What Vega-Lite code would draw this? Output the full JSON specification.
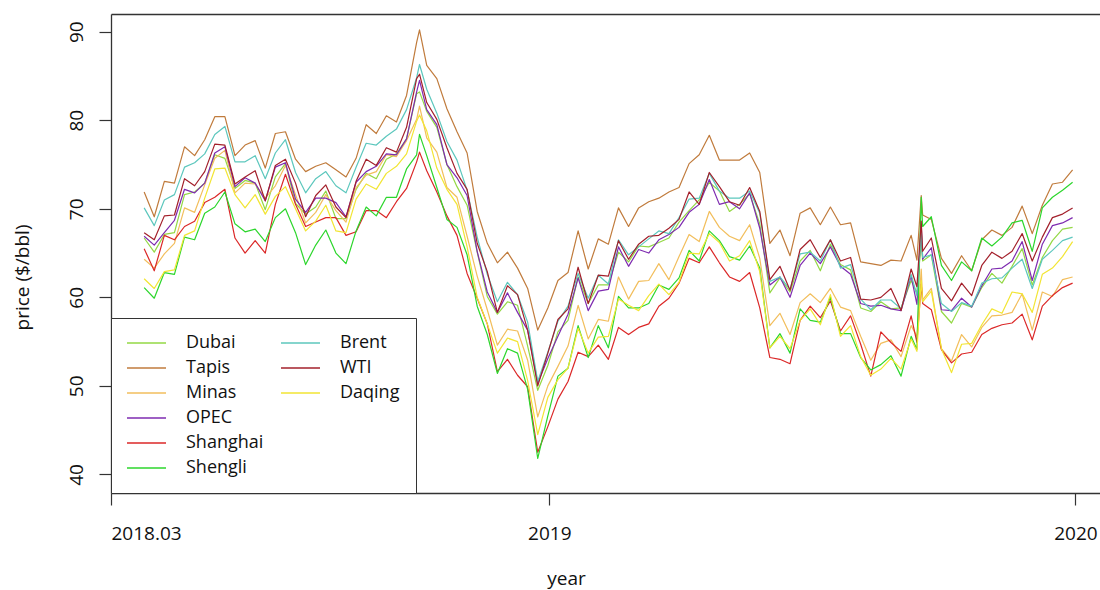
{
"$schema":"https://vega.github.io/schema/vega-lite/v6.json",
"width":989,"height":479,
"autosize":{"type":"none"},
"padding":{"left":111,"top":14,"right":0,"bottom":97},
"background":"white",
"config":{"view":{"stroke":null},"font":"Open Sans","axis":{"domainColor":"#333","domainWidth":1.3,"tickColor":"#333","tickWidth":1.2,"labelColor":"#111","titleColor":"#111","grid":false,"labelFont":"Open Sans","titleFont":"Open Sans","titleFontWeight":"normal"}},
"data":{"values":[
{"date":"2018-03-26","Brent":70.1,"Shanghai":65.5,"Tapis":71.9,"OPEC":66.9,"Dubai":66.7,"WTI":67.3,"Minas":64.3,"Daqing":62.1,"Shengli":61.1},
{"date":"2018-04-02","Brent":68.1,"Shanghai":63.0,"Tapis":69.1,"OPEC":65.9,"Dubai":65.1,"WTI":66.5,"Minas":63.3,"Daqing":61.0,"Shengli":59.9},
{"date":"2018-04-09","Brent":71.0,"Shanghai":67.0,"Tapis":73.1,"OPEC":67.3,"Dubai":67.1,"WTI":69.2,"Minas":64.9,"Daqing":62.9,"Shengli":62.8},
{"date":"2018-04-16","Brent":71.6,"Shanghai":66.5,"Tapis":72.9,"OPEC":68.7,"Dubai":67.3,"WTI":69.3,"Minas":66.1,"Daqing":63.1,"Shengli":62.6},
{"date":"2018-04-23","Brent":74.7,"Shanghai":68.0,"Tapis":77.0,"OPEC":72.2,"Dubai":71.6,"WTI":73.4,"Minas":70.1,"Daqing":67.0,"Shengli":66.8},
{"date":"2018-04-30","Brent":75.2,"Shanghai":68.6,"Tapis":76.0,"OPEC":71.8,"Dubai":71.9,"WTI":72.6,"Minas":69.6,"Daqing":67.5,"Shengli":66.5},
{"date":"2018-05-07","Brent":76.2,"Shanghai":70.7,"Tapis":77.8,"OPEC":72.9,"Dubai":72.9,"WTI":74.2,"Minas":72.7,"Daqing":71.2,"Shengli":69.5},
{"date":"2018-05-14","Brent":78.4,"Shanghai":71.3,"Tapis":80.4,"OPEC":76.3,"Dubai":76.1,"WTI":77.3,"Minas":75.7,"Daqing":74.5,"Shengli":70.2},
{"date":"2018-05-21","Brent":79.3,"Shanghai":72.2,"Tapis":80.4,"OPEC":77.0,"Dubai":75.7,"WTI":77.2,"Minas":76.6,"Daqing":74.6,"Shengli":71.9},
{"date":"2018-05-28","Brent":75.3,"Shanghai":66.7,"Tapis":76.0,"OPEC":72.5,"Dubai":72.3,"WTI":72.8,"Minas":71.8,"Daqing":71.6,"Shengli":68.3},
{"date":"2018-06-04","Brent":75.3,"Shanghai":65.0,"Tapis":77.2,"OPEC":73.5,"Dubai":73.2,"WTI":73.6,"Minas":72.9,"Daqing":70.1,"Shengli":67.4},
{"date":"2018-06-11","Brent":76.0,"Shanghai":66.4,"Tapis":77.7,"OPEC":72.9,"Dubai":72.9,"WTI":74.3,"Minas":72.8,"Daqing":71.6,"Shengli":67.7},
{"date":"2018-06-18","Brent":73.4,"Shanghai":65.0,"Tapis":74.6,"OPEC":70.9,"Dubai":69.9,"WTI":70.9,"Minas":71.2,"Daqing":69.4,"Shengli":66.3},
{"date":"2018-06-25","Brent":76.3,"Shanghai":70.5,"Tapis":78.5,"OPEC":74.7,"Dubai":73.6,"WTI":74.9,"Minas":72.6,"Daqing":71.4,"Shengli":69.0},
{"date":"2018-07-02","Brent":77.8,"Shanghai":73.9,"Tapis":78.7,"OPEC":75.2,"Dubai":75.1,"WTI":75.6,"Minas":74.9,"Daqing":72.5,"Shengli":70.0},
{"date":"2018-07-09","Brent":74.1,"Shanghai":70.5,"Tapis":75.6,"OPEC":71.1,"Dubai":70.6,"WTI":72.9,"Minas":71.6,"Daqing":70.0,"Shengli":67.3},
{"date":"2018-07-16","Brent":71.8,"Shanghai":68.0,"Tapis":74.2,"OPEC":69.6,"Dubai":69.4,"WTI":69.1,"Minas":68.4,"Daqing":67.5,"Shengli":63.7},
{"date":"2018-07-23","Brent":73.4,"Shanghai":68.5,"Tapis":74.8,"OPEC":71.2,"Dubai":70.2,"WTI":71.5,"Minas":69.6,"Daqing":68.6,"Shengli":65.9},
{"date":"2018-07-30","Brent":74.2,"Shanghai":69.0,"Tapis":75.2,"OPEC":71.2,"Dubai":72.0,"WTI":72.7,"Minas":71.6,"Daqing":70.4,"Shengli":67.6},
{"date":"2018-08-06","Brent":72.6,"Shanghai":69.0,"Tapis":74.4,"OPEC":70.7,"Dubai":68.9,"WTI":70.2,"Minas":69.8,"Daqing":67.5,"Shengli":65.0},
{"date":"2018-08-13","Brent":71.8,"Shanghai":67.0,"Tapis":73.6,"OPEC":69.1,"Dubai":68.9,"WTI":69.0,"Minas":68.5,"Daqing":67.3,"Shengli":63.8},
{"date":"2018-08-20","Brent":74.7,"Shanghai":67.4,"Tapis":75.7,"OPEC":73.0,"Dubai":72.2,"WTI":73.1,"Minas":72.4,"Daqing":71.1,"Shengli":67.5},
{"date":"2018-08-27","Brent":77.4,"Shanghai":69.8,"Tapis":79.5,"OPEC":74.2,"Dubai":74.0,"WTI":75.6,"Minas":73.8,"Daqing":72.8,"Shengli":70.2},
{"date":"2018-09-03","Brent":77.2,"Shanghai":69.8,"Tapis":78.5,"OPEC":74.8,"Dubai":73.4,"WTI":74.9,"Minas":74.2,"Daqing":72.2,"Shengli":69.2},
{"date":"2018-09-10","Brent":78.2,"Shanghai":69.0,"Tapis":80.5,"OPEC":76.2,"Dubai":75.6,"WTI":76.9,"Minas":76.1,"Daqing":74.0,"Shengli":71.3},
{"date":"2018-09-17","Brent":79.0,"Shanghai":70.8,"Tapis":79.8,"OPEC":76.1,"Dubai":76.2,"WTI":76.4,"Minas":75.9,"Daqing":74.8,"Shengli":71.3},
{"date":"2018-09-24","Brent":81.2,"Shanghai":72.3,"Tapis":82.8,"OPEC":77.9,"Dubai":77.9,"WTI":79.2,"Minas":77.7,"Daqing":76.2,"Shengli":74.5},
{"date":"2018-10-01","Brent":84.8,"Shanghai":75.3,"Tapis":88.8,"OPEC":83.2,"Dubai":83.0,"WTI":84.7,"Minas":80.1,"Daqing":79.9,"Shengli":76.1},
{"date":"2018-10-03","Brent":86.3,"Shanghai":76.4,"Tapis":90.2,"OPEC":84.5,"Dubai":83.2,"WTI":85.2,"Minas":81.6,"Daqing":80.6,"Shengli":78.4},
{"date":"2018-10-08","Brent":83.5,"Shanghai":74.3,"Tapis":86.2,"OPEC":81.2,"Dubai":81.0,"WTI":82.0,"Minas":78.0,"Daqing":78.8,"Shengli":76.0},
{"date":"2018-10-15","Brent":80.8,"Shanghai":71.9,"Tapis":84.7,"OPEC":79.5,"Dubai":79.2,"WTI":80.1,"Minas":76.4,"Daqing":74.6,"Shengli":72.4},
{"date":"2018-10-22","Brent":77.6,"Shanghai":69.2,"Tapis":81.3,"OPEC":75.0,"Dubai":75.0,"WTI":76.9,"Minas":72.4,"Daqing":72.2,"Shengli":68.8},
{"date":"2018-10-29","Brent":75.5,"Shanghai":67.0,"Tapis":78.7,"OPEC":73.5,"Dubai":72.5,"WTI":74.0,"Minas":71.3,"Daqing":70.5,"Shengli":67.9},
{"date":"2018-11-05","Brent":72.1,"Shanghai":62.7,"Tapis":76.3,"OPEC":71.5,"Dubai":70.4,"WTI":72.2,"Minas":66.9,"Daqing":65.7,"Shengli":64.8},
{"date":"2018-11-12","Brent":66.8,"Shanghai":59.9,"Tapis":69.7,"OPEC":65.2,"Dubai":65.1,"WTI":66.1,"Minas":62.4,"Daqing":60.0,"Shengli":59.0},
{"date":"2018-11-19","Brent":62.6,"Shanghai":57.0,"Tapis":66.1,"OPEC":60.6,"Dubai":60.1,"WTI":62.9,"Minas":58.6,"Daqing":57.0,"Shengli":55.8},
{"date":"2018-11-26","Brent":59.5,"Shanghai":51.6,"Tapis":63.9,"OPEC":58.3,"Dubai":58.1,"WTI":58.3,"Minas":54.6,"Daqing":53.7,"Shengli":51.4},
{"date":"2018-12-03","Brent":61.7,"Shanghai":53.0,"Tapis":65.1,"OPEC":60.5,"Dubai":59.5,"WTI":61.3,"Minas":56.4,"Daqing":55.4,"Shengli":54.2},
{"date":"2018-12-10","Brent":60.3,"Shanghai":51.2,"Tapis":63.3,"OPEC":58.3,"Dubai":59.1,"WTI":60.3,"Minas":56.2,"Daqing":55.0,"Shengli":53.7},
{"date":"2018-12-17","Brent":57.2,"Shanghai":49.9,"Tapis":61.0,"OPEC":56.3,"Dubai":54.5,"WTI":56.3,"Minas":52.9,"Daqing":50.6,"Shengli":49.6},
{"date":"2018-12-24","Brent":50.5,"Shanghai":42.5,"Tapis":56.3,"OPEC":50.3,"Dubai":49.5,"WTI":50.0,"Minas":46.5,"Daqing":44.5,"Shengli":41.8},
{"date":"2018-12-31","Brent":53.8,"Shanghai":45.4,"Tapis":58.8,"OPEC":53.1,"Dubai":52.3,"WTI":53.7,"Minas":50.0,"Daqing":48.7,"Shengli":46.6},
{"date":"2019-01-07","Brent":57.3,"Shanghai":48.5,"Tapis":61.9,"OPEC":55.6,"Dubai":56.1,"WTI":57.5,"Minas":52.2,"Daqing":50.7,"Shengli":51.1},
{"date":"2019-01-14","Brent":59.0,"Shanghai":50.5,"Tapis":62.8,"OPEC":58.1,"Dubai":57.4,"WTI":58.7,"Minas":54.5,"Daqing":52.0,"Shengli":52.0},
{"date":"2019-01-21","Brent":62.7,"Shanghai":53.8,"Tapis":67.5,"OPEC":62.2,"Dubai":62.3,"WTI":63.4,"Minas":59.1,"Daqing":56.5,"Shengli":56.8},
{"date":"2019-01-28","Brent":59.9,"Shanghai":53.3,"Tapis":63.2,"OPEC":58.5,"Dubai":59.3,"WTI":59.3,"Minas":55.3,"Daqing":53.7,"Shengli":53.2},
{"date":"2019-02-04","Brent":62.5,"Shanghai":54.6,"Tapis":66.6,"OPEC":60.7,"Dubai":61.4,"WTI":62.5,"Minas":57.5,"Daqing":55.5,"Shengli":56.8},
{"date":"2019-02-11","Brent":61.5,"Shanghai":53.0,"Tapis":66.0,"OPEC":60.9,"Dubai":61.4,"WTI":62.4,"Minas":57.3,"Daqing":55.6,"Shengli":54.3},
{"date":"2019-02-18","Brent":66.5,"Shanghai":56.6,"Tapis":70.1,"OPEC":65.7,"Dubai":65.1,"WTI":66.4,"Minas":62.3,"Daqing":59.8,"Shengli":60.1},
{"date":"2019-02-25","Brent":64.8,"Shanghai":55.8,"Tapis":68.0,"OPEC":63.5,"Dubai":64.0,"WTI":64.3,"Minas":59.8,"Daqing":59.1,"Shengli":58.8},
{"date":"2019-03-04","Brent":65.7,"Shanghai":56.6,"Tapis":70.1,"OPEC":65.4,"Dubai":65.8,"WTI":66.0,"Minas":61.8,"Daqing":58.5,"Shengli":58.8},
{"date":"2019-03-11","Brent":66.6,"Shanghai":57.0,"Tapis":70.8,"OPEC":65.0,"Dubai":65.7,"WTI":66.9,"Minas":61.9,"Daqing":60.2,"Shengli":59.3},
{"date":"2019-03-18","Brent":67.5,"Shanghai":59.0,"Tapis":71.2,"OPEC":66.5,"Dubai":66.2,"WTI":67.0,"Minas":63.8,"Daqing":61.5,"Shengli":61.4},
{"date":"2019-03-25","Brent":67.2,"Shanghai":59.9,"Tapis":71.9,"OPEC":67.1,"Dubai":66.7,"WTI":67.8,"Minas":62.0,"Daqing":60.3,"Shengli":60.9},
{"date":"2019-04-01","Brent":69.0,"Shanghai":61.6,"Tapis":72.4,"OPEC":67.9,"Dubai":68.5,"WTI":68.8,"Minas":64.6,"Daqing":61.7,"Shengli":62.2},
{"date":"2019-04-08","Brent":71.1,"Shanghai":64.4,"Tapis":75.1,"OPEC":69.6,"Dubai":69.8,"WTI":71.9,"Minas":67.1,"Daqing":65.0,"Shengli":65.3},
{"date":"2019-04-15","Brent":71.2,"Shanghai":63.9,"Tapis":76.1,"OPEC":70.5,"Dubai":71.0,"WTI":70.5,"Minas":66.3,"Daqing":64.9,"Shengli":64.1},
{"date":"2019-04-22","Brent":74.0,"Shanghai":65.7,"Tapis":78.3,"OPEC":73.3,"Dubai":73.0,"WTI":74.1,"Minas":69.7,"Daqing":67.2,"Shengli":67.5},
{"date":"2019-04-29","Brent":72.0,"Shanghai":63.9,"Tapis":75.5,"OPEC":70.5,"Dubai":72.0,"WTI":72.5,"Minas":67.9,"Daqing":66.2,"Shengli":66.4},
{"date":"2019-05-06","Brent":71.2,"Shanghai":62.3,"Tapis":75.5,"OPEC":70.8,"Dubai":69.7,"WTI":70.8,"Minas":66.9,"Daqing":64.1,"Shengli":64.6},
{"date":"2019-05-13","Brent":71.2,"Shanghai":61.8,"Tapis":75.5,"OPEC":70.0,"Dubai":70.5,"WTI":70.4,"Minas":66.4,"Daqing":64.7,"Shengli":64.2},
{"date":"2019-05-20","Brent":72.0,"Shanghai":62.8,"Tapis":76.3,"OPEC":71.8,"Dubai":71.7,"WTI":72.4,"Minas":68.2,"Daqing":66.4,"Shengli":65.8},
{"date":"2019-05-27","Brent":69.5,"Shanghai":58.8,"Tapis":74.1,"OPEC":67.8,"Dubai":68.3,"WTI":69.7,"Minas":64.4,"Daqing":62.9,"Shengli":63.3},
{"date":"2019-06-03","Brent":61.8,"Shanghai":53.2,"Tapis":66.1,"OPEC":61.4,"Dubai":60.5,"WTI":62.0,"Minas":56.8,"Daqing":54.3,"Shengli":54.3},
{"date":"2019-06-10","Brent":62.3,"Shanghai":53.0,"Tapis":67.6,"OPEC":62.3,"Dubai":62.2,"WTI":63.5,"Minas":58.2,"Daqing":55.6,"Shengli":55.9},
{"date":"2019-06-17","Brent":60.9,"Shanghai":52.5,"Tapis":64.7,"OPEC":60.0,"Dubai":60.6,"WTI":60.8,"Minas":55.8,"Daqing":54.2,"Shengli":53.7},
{"date":"2019-06-24","Brent":64.9,"Shanghai":57.4,"Tapis":69.5,"OPEC":63.6,"Dubai":64.1,"WTI":65.4,"Minas":59.4,"Daqing":57.4,"Shengli":58.7},
{"date":"2019-07-01","Brent":65.1,"Shanghai":59.0,"Tapis":70.1,"OPEC":65.0,"Dubai":65.3,"WTI":66.5,"Minas":60.4,"Daqing":58.7,"Shengli":57.4},
{"date":"2019-07-08","Brent":64.1,"Shanghai":57.7,"Tapis":68.2,"OPEC":63.8,"Dubai":63.0,"WTI":64.5,"Minas":59.4,"Daqing":56.9,"Shengli":57.2},
{"date":"2019-07-15","Brent":66.5,"Shanghai":59.6,"Tapis":70.2,"OPEC":65.7,"Dubai":66.0,"WTI":66.5,"Minas":61.0,"Daqing":60.3,"Shengli":60.0},
{"date":"2019-07-22","Brent":63.3,"Shanghai":56.2,"Tapis":68.2,"OPEC":63.5,"Dubai":63.7,"WTI":64.1,"Minas":58.9,"Daqing":55.6,"Shengli":55.9},
{"date":"2019-07-29","Brent":63.7,"Shanghai":57.9,"Tapis":68.4,"OPEC":62.6,"Dubai":63.1,"WTI":64.5,"Minas":58.5,"Daqing":56.8,"Shengli":55.9},
{"date":"2019-08-05","Brent":59.8,"Shanghai":54.7,"Tapis":64.0,"OPEC":59.3,"Dubai":58.8,"WTI":59.8,"Minas":55.6,"Daqing":53.3,"Shengli":53.2},
{"date":"2019-08-12","Brent":58.6,"Shanghai":51.1,"Tapis":63.8,"OPEC":59.0,"Dubai":58.4,"WTI":59.7,"Minas":52.9,"Daqing":51.2,"Shengli":51.8},
{"date":"2019-08-19","Brent":59.7,"Shanghai":56.1,"Tapis":63.6,"OPEC":59.1,"Dubai":59.5,"WTI":60.0,"Minas":54.8,"Daqing":51.9,"Shengli":52.4},
{"date":"2019-08-26","Brent":59.7,"Shanghai":54.9,"Tapis":64.2,"OPEC":58.7,"Dubai":58.7,"WTI":61.0,"Minas":55.2,"Daqing":53.1,"Shengli":53.4},
{"date":"2019-09-02","Brent":58.7,"Shanghai":53.9,"Tapis":64.1,"OPEC":58.5,"Dubai":58.8,"WTI":58.5,"Minas":53.3,"Daqing":51.9,"Shengli":51.1},
{"date":"2019-09-09","Brent":62.6,"Shanghai":57.9,"Tapis":67.0,"OPEC":62.4,"Dubai":61.9,"WTI":63.2,"Minas":56.8,"Daqing":55.3,"Shengli":55.6},
{"date":"2019-09-13","Brent":60.2,"Shanghai":54.9,"Tapis":64.2,"OPEC":59.2,"Dubai":60.5,"WTI":61.2,"Minas":55.6,"Daqing":53.9,"Shengli":54.1},
{"date":"2019-09-16","Brent":67.5,"Shanghai":61.5,"Tapis":71.5,"OPEC":68.1,"Dubai":66.3,"WTI":68.6,"Minas":63.2,"Daqing":61.9,"Shengli":71.3},
{"date":"2019-09-17","Brent":64.5,"Shanghai":59.3,"Tapis":69.3,"OPEC":64.3,"Dubai":64.1,"WTI":65.2,"Minas":59.7,"Daqing":59.5,"Shengli":68.0},
{"date":"2019-09-23","Brent":64.8,"Shanghai":58.6,"Tapis":68.8,"OPEC":65.6,"Dubai":64.8,"WTI":66.7,"Minas":61.0,"Daqing":60.7,"Shengli":69.1},
{"date":"2019-09-30","Brent":59.3,"Shanghai":54.1,"Tapis":64.4,"OPEC":58.6,"Dubai":58.4,"WTI":61.0,"Minas":54.2,"Daqing":54.2,"Shengli":63.6},
{"date":"2019-10-07","Brent":58.4,"Shanghai":52.6,"Tapis":62.7,"OPEC":58.5,"Dubai":57.1,"WTI":59.6,"Minas":52.8,"Daqing":51.5,"Shengli":61.9},
{"date":"2019-10-14","Brent":59.4,"Shanghai":53.6,"Tapis":64.7,"OPEC":59.9,"Dubai":59.3,"WTI":61.6,"Minas":55.8,"Daqing":54.7,"Shengli":64.0},
{"date":"2019-10-21","Brent":59.0,"Shanghai":53.8,"Tapis":63.0,"OPEC":58.9,"Dubai":58.9,"WTI":60.2,"Minas":54.4,"Daqing":54.8,"Shengli":63.0},
{"date":"2019-10-28","Brent":61.6,"Shanghai":55.8,"Tapis":66.5,"OPEC":61.3,"Dubai":61.1,"WTI":63.6,"Minas":56.6,"Daqing":56.9,"Shengli":66.7},
{"date":"2019-11-04","Brent":62.1,"Shanghai":56.5,"Tapis":67.6,"OPEC":63.2,"Dubai":62.7,"WTI":65.1,"Minas":57.9,"Daqing":58.7,"Shengli":65.8},
{"date":"2019-11-11","Brent":62.2,"Shanghai":56.9,"Tapis":67.0,"OPEC":63.3,"Dubai":61.6,"WTI":64.4,"Minas":58.0,"Daqing":58.2,"Shengli":66.8},
{"date":"2019-11-18","Brent":63.3,"Shanghai":57.1,"Tapis":67.9,"OPEC":64.1,"Dubai":63.5,"WTI":65.2,"Minas":58.3,"Daqing":60.6,"Shengli":68.4},
{"date":"2019-11-25","Brent":64.3,"Shanghai":58.1,"Tapis":70.3,"OPEC":66.3,"Dubai":65.5,"WTI":67.2,"Minas":60.4,"Daqing":60.4,"Shengli":68.7},
{"date":"2019-12-02","Brent":61.0,"Shanghai":55.2,"Tapis":67.2,"OPEC":61.9,"Dubai":61.4,"WTI":64.1,"Minas":56.3,"Daqing":58.3,"Shengli":65.2},
{"date":"2019-12-09","Brent":64.3,"Shanghai":59.0,"Tapis":70.4,"OPEC":66.0,"Dubai":64.5,"WTI":66.8,"Minas":60.6,"Daqing":62.6,"Shengli":70.1},
{"date":"2019-12-16","Brent":65.3,"Shanghai":60.2,"Tapis":72.8,"OPEC":68.1,"Dubai":66.4,"WTI":69.0,"Minas":60.1,"Daqing":63.3,"Shengli":71.3},
{"date":"2019-12-23","Brent":66.4,"Shanghai":61.1,"Tapis":73.0,"OPEC":68.4,"Dubai":67.7,"WTI":69.4,"Minas":62.0,"Daqing":64.6,"Shengli":72.1},
{"date":"2019-12-30","Brent":66.8,"Shanghai":61.6,"Tapis":74.4,"OPEC":69.0,"Dubai":67.9,"WTI":70.1,"Minas":62.3,"Daqing":66.3,"Shengli":73.0}
]},
"transform":[{"fold":["Dubai","Tapis","Minas","OPEC","Shanghai","Shengli","Brent","WTI","Daqing"],"as":["series","price"]}],
"layer":[
{"mark":{"type":"line","strokeWidth":1.2,"strokeJoin":"round"},
 "encoding":{
  "x":{"field":"date","type":"temporal",
   "scale":{"type":"utc","domain":[{"year":2018,"month":3,"date":3,"utc":true},{"year":2020,"month":1,"date":18,"utc":true}]},
   "axis":{"orient":"bottom","values":[{"year":2018,"month":3,"date":3,"utc":true},{"year":2019,"month":1,"date":1,"utc":true},{"year":2020,"month":1,"date":1,"utc":true}],
    "labelExpr":"utcyear(datum.value) == 2018 ? '2018.03' : utcFormat(datum.value, '%Y')",
    "labelAlign":{"condition":{"test":"utcyear(datum.value) == 2018","value":"left"},"value":"center"},
    "labelBaseline":"top","labelFontSize":19,"labelPadding":19,"tickSize":12,"labelFlush":false,"labelOverlap":false,
    "title":"year","titleFontSize":19,"titleX":455,"titleY":91,"titleBaseline":"alphabetic","titleAlign":"center"}},
  "y":{"field":"price","type":"quantitative","scale":{"domain":[37.9,92],"nice":false,"zero":false},
   "axis":{"values":[40,50,60,70,80,90],"labelAngle":-90,"labelAlign":"center","labelBaseline":"alphabetic","labelFontSize":19,"labelPadding":17,"tickSize":12,
    "title":"price ($/bbl)","titleFontSize":19,"titleX":-89,"titleY":263,"titleAngle":-90,"titleAlign":"center","titleBaseline":"middle"}},
  "color":{"field":"series","type":"nominal",
   "scale":{"domain":["Dubai","Tapis","Minas","OPEC","Shanghai","Shengli","Brent","WTI","Daqing"," ","  ","   "],
    "range":["#93D844","#C07B3C","#F2BE5C","#7E2BB0","#DB2727","#2CD62C","#5CC7BD","#A3202B","#F2E533","#ffffff","#ffffff","#ffffff"]},
   "legend":{"title":null,"orient":"bottom-left","offset":0,"columns":2,"direction":"vertical","padding":16,"fillColor":"white","strokeColor":"#333",
    "labelFontSize":18,"labelFont":"Open Sans","labelColor":"#111","symbolType":"M-1.125,0H3.75","symbolSize":256,"symbolStrokeWidth":1.5,
    "labelOffset":41,"rowPadding":7,"columnPadding":14,"labelLimit":200}}
 }},
{"mark":{"type":"line","opacity":0},
 "encoding":{
  "x":{"field":"date","type":"temporal","axis":{"orient":"top","labels":false,"ticks":false,"title":null,"domain":true}},
  "y":{"field":"price","type":"quantitative"}}}
],
"resolve":{"axis":{"x":"independent"}}
}
